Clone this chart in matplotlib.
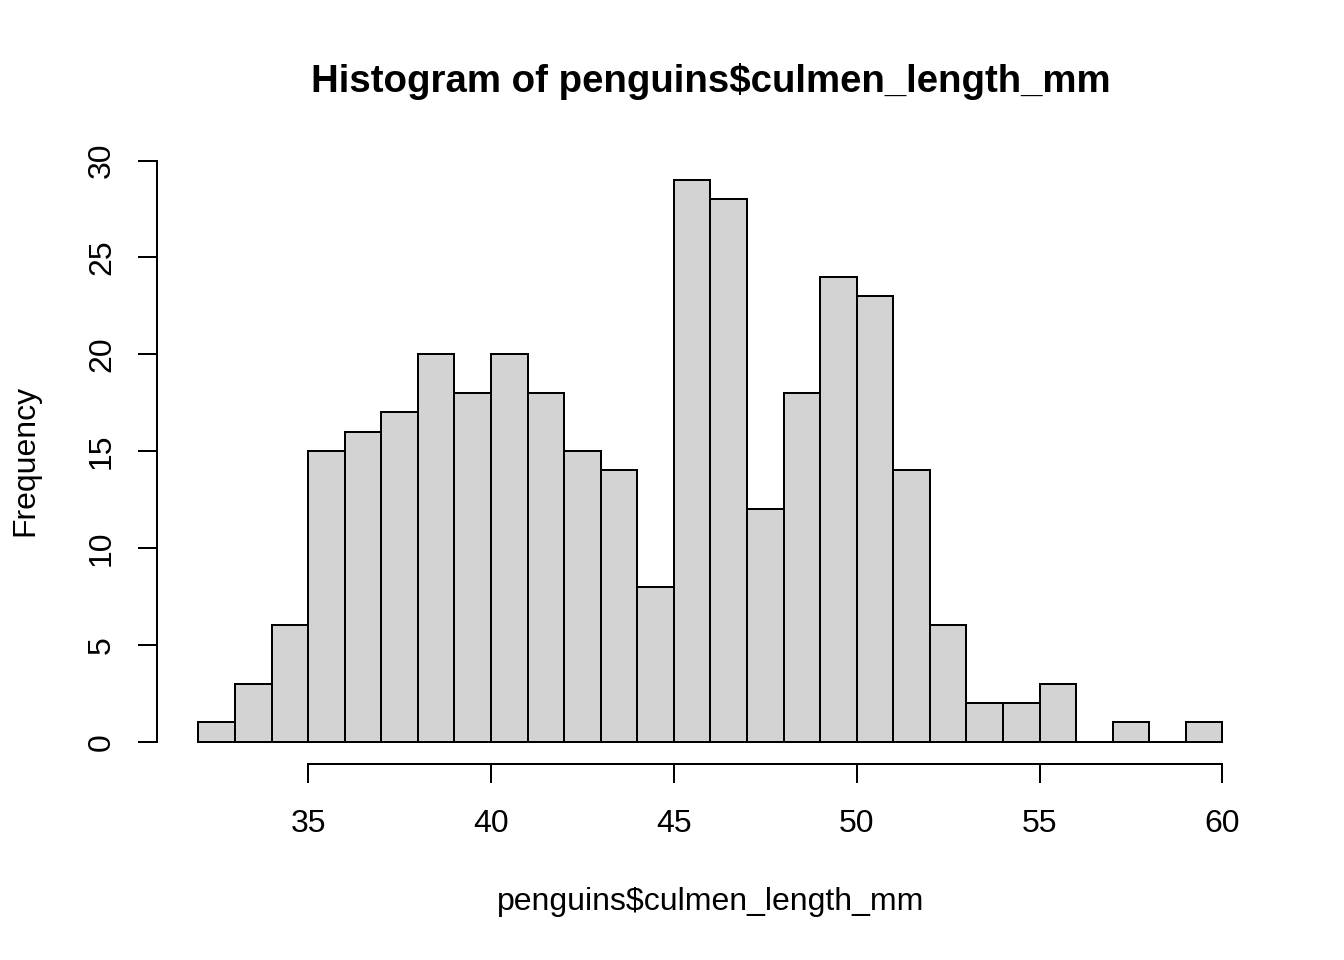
import matplotlib
matplotlib.use("Agg")
from matplotlib import pyplot as plt

plt.rcParams['font.family'] = ['Liberation Sans', 'DejaVu Sans']

# bin edges 32..60, width 1
bin_left = list(range(32, 60))
counts = [1, 3, 6, 15, 16, 17, 20, 18, 20, 18, 15, 14, 8, 29,
          28, 12, 18, 24, 23, 14, 6, 2, 2, 3, 0, 1, 0, 1]
x_ticks = [35, 40, 45, 50, 55, 60]
y_ticks = [0, 5, 10, 15, 20, 25, 30]

title = "Histogram of penguins$culmen_length_mm"
xlab = "penguins$culmen_length_mm"
ylab = "Frequency"

# R png device: 7 x 5 in at 192 dpi
fig = plt.figure(figsize=(7, 5), dpi=192)
ax = fig.add_axes([0.82 / 7, 1.02 / 5, (7 - 0.82 - 0.42) / 7, (5 - 1.02 - 0.82) / 5])

ax.bar(bin_left, counts, width=1, align='edge', color='#D3D3D3',
       edgecolor='black', linewidth=0.75)

ax.set_xlim(32 - 0.04 * 28, 60 + 0.04 * 28)
ax.set_ylim(-0.04 * 29, 29 + 0.04 * 29)

for s in ['top', 'right']:
    ax.spines[s].set_visible(False)
ax.spines['left'].set_bounds(0, 30)
ax.spines['bottom'].set_bounds(35, 60)
for s in ['left', 'bottom']:
    ax.spines[s].set_linewidth(0.75)

ax.set_xticks(x_ticks)
ax.set_yticks(y_ticks)
ax.set_yticklabels([str(v) for v in y_ticks], rotation=90, va='center')
ax.tick_params(axis='both', length=7.2, width=0.75, labelsize=12)
ax.tick_params(axis='x', pad=9.5)
ax.tick_params(axis='y', pad=8)

fig.text(0.5 * (0.82 + 7 - 0.42) / 7, 1 - 81 / 960, title, ha='center', va='center',
         fontsize=14.4, fontweight='bold')
fig.text(0.5 * (0.82 + 7 - 0.42) / 7, 1 - 902 / 960, xlab, ha='center', va='center',
         fontsize=12)
fig.text(25 / 1344, 1 - 460 / 960, ylab, ha='center', va='center',
         fontsize=12, rotation=90)

fig.savefig("out.png", dpi=192)
